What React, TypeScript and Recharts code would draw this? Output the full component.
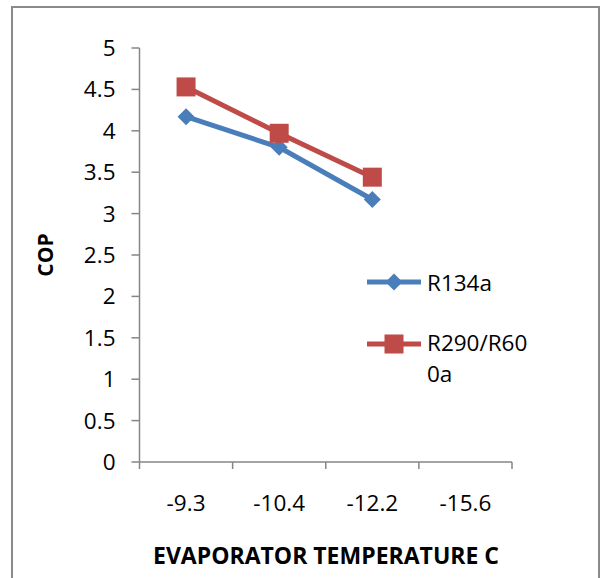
import { LineChart, Line, XAxis, YAxis, Legend } from 'recharts';

const categories = ['-9.3', '-10.4', '-12.2', '-15.6'];
const r134a = [4.17, 3.8, 3.17, null];
const r290 = [4.53, 3.97, 3.44, null];
const yTicks = [0, 0.5, 1, 1.5, 2, 2.5, 3, 3.5, 4, 4.5, 5];

const BLUE = '#4a7ebb';
const RED = '#be4b48';
const AXIS = '#868686';
const FONT = '"Open Sans", sans-serif';

// x is numeric so the tick marks can sit between the categories, like Excel does
const data = categories.map((c, i) => ({
  x: i + 0.5,
  name: c,
  r134a: r134a[i],
  r290: r290[i],
}));
const xTicks = [0, 0.5, 1, 1.5, 2, 2.5, 3, 3.5, 4];

const Diamond = ({ cx, cy, r = 8.5, fill }: any) => (
  <polygon
    points={`${cx},${cy - r} ${cx + r},${cy} ${cx},${cy + r} ${cx - r},${cy}`}
    fill={fill}
  />
);

const Square = ({ cx, cy, s = 19, fill }: any) => (
  <rect x={cx - s / 2} y={cy - s / 2} width={s} height={s} fill={fill} />
);

const BlueDot = (props: any) =>
  props.value == null ? <g key={props.index} /> : <Diamond key={props.index} cx={props.cx} cy={props.cy} fill={BLUE} />;
const RedDot = (props: any) =>
  props.value == null ? <g key={props.index} /> : <Square key={props.index} cx={props.cx} cy={props.cy} fill={RED} />;

const XTick = (props: any) => {
  const { x, y, payload } = props;
  const v = payload.value;
  if (Number.isInteger(v)) {
    return <line x1={x} x2={x} y1={y} y2={y + 7} stroke={AXIS} strokeWidth={1.5} />;
  }
  return (
    <text x={x} y={y + 49} textAnchor="middle" fontSize={22.5} fontFamily={FONT} fill="#000">
      {categories[Math.floor(v)]}
    </text>
  );
};

const LegendBox = () => (
  <svg width={200} height={130} style={{ display: 'block' }}>
    <line x1={7} x2={61} y1={22} y2={22} stroke={BLUE} strokeWidth={5} />
    <Diamond cx={34} cy={22} fill={BLUE} />
    <text x={67} y={31} fontSize={22.5} fontFamily={FONT} fill="#000">R134a</text>
    <line x1={7} x2={61} y1={84} y2={84} stroke={RED} strokeWidth={5} />
    <Square cx={34} cy={84} fill={RED} />
    <text x={67} y={91} fontSize={22.5} fontFamily={FONT} fill="#000">R290/R60</text>
    <text x={67} y={122} fontSize={22.5} fontFamily={FONT} fill="#000">0a</text>
  </svg>
);

export default function App() {
  return (
    <div style={{ position: 'absolute', left: 0, top: 0, width: 601, height: 578, overflow: 'hidden', background: '#fff' }}>
      <div
        style={{
          position: 'absolute',
          left: 11,
          top: 6,
          width: 589,
          height: 640,
          border: '2px solid #8a8a8a',
          boxSizing: 'border-box',
        }}
      />
      <div style={{ position: 'absolute', left: 0, top: 0 }}>
        <LineChart width={601} height={578} data={data} margin={{ top: 48, right: 89, bottom: 0, left: 0 }}>
          <XAxis
            dataKey="x"
            type="number"
            domain={[0, 4]}
            ticks={xTicks}
            interval={0}
            height={116}
            tickLine={false}
            tickSize={0}
            tickMargin={0}
            tick={<XTick />}
            axisLine={{ stroke: AXIS, strokeWidth: 1.5 }}
            label={{
              content: () => (
                <text x={326} y={564} textAnchor="middle" fontSize={23} fontWeight="bold" fontFamily={FONT} fill="#000">
                  EVAPORATOR TEMPERATURE C
                </text>
              ),
            }}
          />
          <YAxis
            type="number"
            domain={[0, 5]}
            ticks={yTicks}
            interval={0}
            width={139.5}
            tickSize={8}
            tickMargin={16}
            tickLine={{ stroke: AXIS, strokeWidth: 1.5 }}
            axisLine={{ stroke: AXIS, strokeWidth: 1.5 }}
            tick={{ fontSize: 22.5, fontFamily: FONT, fill: '#000' }}
            label={{
              content: () => (
                <text
                  x={53}
                  y={255}
                  transform="rotate(-90 53 255)"
                  textAnchor="middle"
                  fontSize={21}
                  fontWeight="bold"
                  fontFamily={FONT}
                  fill="#000"
                >
                  COP
                </text>
              ),
            }}
          />
          <Legend
            layout="horizontal"
            verticalAlign="middle"
            align="center"
            wrapperStyle={{ left: 360, top: 260, width: 200, height: 130 }}
            content={() => <LegendBox />}
          />
          <Line
            dataKey="r134a"
            name="R134a"
            stroke={BLUE}
            strokeWidth={5}
            dot={BlueDot}
            activeDot={false}
            isAnimationActive={false}
          />
          <Line
            dataKey="r290"
            name="R290/R600a"
            stroke={RED}
            strokeWidth={5}
            dot={RedDot}
            activeDot={false}
            isAnimationActive={false}
          />
        </LineChart>
      </div>
    </div>
  );
}
